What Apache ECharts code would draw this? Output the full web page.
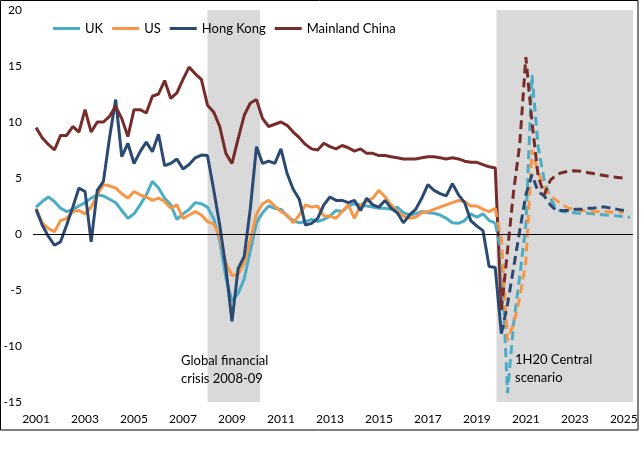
<!DOCTYPE html>
<html><head><meta charset="utf-8">
<script src="https://cdn.jsdelivr.net/npm/echarts@6/dist/echarts.min.js"></script>
<style>html,body{margin:0;padding:0;background:#fff}#c{width:643px;height:460px}</style>
</head><body><div id="c"></div>
<script>
// Quarterly categories 2001Q1 .. 2025Q2
const quarters = [];
for (let y = 2001; quarters.length < 98; y++) for (let q = 1; q <= 4 && quarters.length < 98; q++) quarters.push(y + 'Q' + q);

const xTickLabels = ['2001','2003','2005','2007','2009','2011','2013','2015','2017','2019','2021','2023','2025'];
const yTicks = [-15, -10, -5, 0, 5, 10, 15, 20];

// Actual outturns (from 2001Q1)
const ukActual = [2.4,2.9,3.3,2.9,2.3,2.0,2.2,2.5,2.8,3.2,
  3.5,3.4,3.1,2.8,2.1,1.4,1.8,2.6,3.5,4.7,
  4.1,3.2,2.6,1.3,1.8,2.2,2.8,2.7,2.4,1.4,
  -0.6,-3.9,-6.0,-5.3,-4.0,-1.5,1.0,1.9,2.5,2.3,
  2.2,1.6,1.2,1.0,1.1,1.3,1.1,1.3,1.6,2.1,
  2.0,2.5,2.7,2.6,2.5,2.4,2.3,2.3,2.2,2.4,
  1.9,1.7,1.8,2.0,1.9,1.85,1.7,1.4,1.0,0.95,
  1.2,1.8,1.5,1.8,1.2,1.0];
const usActual = [2.3,1.0,0.5,0.2,1.2,1.4,2.0,2.1,1.8,2.4,
  3.5,4.4,4.3,4.1,3.6,3.2,3.8,3.5,3.3,3.0,
  3.2,2.9,2.3,2.6,1.4,1.7,2.0,1.7,1.1,0.9,
  -0.2,-2.6,-3.7,-3.6,-2.6,-0.5,1.8,2.7,3.0,2.5,
  2.0,1.7,1.0,1.7,2.6,2.4,2.5,1.6,1.6,1.4,
  2.0,2.6,1.4,2.6,2.9,3.2,3.9,3.3,2.6,2.0,
  1.6,1.4,1.5,1.9,2.0,2.2,2.4,2.6,2.8,3.0,
  2.9,2.5,2.5,2.2,2.0,2.3];
const hkActual = [2.2,0.8,-0.2,-1.0,-0.7,0.8,2.4,4.1,3.8,-0.7,
  3.9,4.7,8.6,12.0,6.9,8.1,6.3,7.35,8.2,7.35,
  8.9,6.1,6.3,6.7,5.8,6.2,6.8,7.05,7.0,4.0,
  0.8,-3.0,-7.8,-3.1,-2.0,2.3,7.8,6.3,6.5,6.3,
  7.6,5.4,4.0,3.1,0.8,0.95,1.4,2.6,3.3,3.0,
  3.0,2.8,3.0,2.1,3.2,2.6,2.4,3.0,2.3,1.9,
  1.0,1.7,2.2,3.2,4.4,3.9,3.6,3.4,4.5,3.5,
  2.8,1.2,0.7,0.3,-2.9,-3.0,-8.9];
const mcActual = [9.5,8.6,8.0,7.5,8.8,8.8,9.6,9.1,11.1,9.1,
  10.0,10.0,10.5,11.4,10.3,8.7,11.1,11.1,10.8,12.3,
  12.5,13.7,12.1,12.6,13.8,14.9,14.3,13.8,11.5,10.9,
  9.6,7.2,6.3,8.5,10.6,11.7,12.0,10.3,9.6,9.8,
  10.0,9.7,9.1,8.6,8.0,7.6,7.5,8.1,7.8,7.6,
  7.9,7.7,7.4,7.6,7.2,7.2,7.0,7.0,6.9,6.8,
  6.7,6.7,6.7,6.8,6.9,6.9,6.8,6.7,6.8,6.7,
  6.5,6.4,6.4,6.2,6.0,5.9,-6.8];

// 1H20 central scenario projections
const ukScenarioStart = '2019Q4';
const ukScenario = [1.0,-1.7,-14.2,-8.0,-3.8,0.8,14.2,7.8,4.8,3.2,2.2,2.0,1.95,1.9,1.85,1.85,1.8,1.75,1.7,1.65,1.6,1.55,1.5];
const usScenarioStart = '2019Q4';
const usScenario = [2.3,-0.5,-9.5,-8.0,-5.7,-2.5,7.5,5.5,4.2,3.4,3.0,2.6,2.3,2.2,2.1,2.05,2.0,2.0,2.0,1.95,1.95,1.95];
const hkScenarioStart = '2020Q1';
const hkScenario = [-8.9,-6.3,-3.0,0.3,3.5,5.3,3.8,3.4,2.6,2.1,2.1,2.1,2.2,2.2,2.3,2.3,2.4,2.4,2.3,2.2,2.1];
const mcScenarioStart = '2020Q1';
const mcScenario = [-6.8,-1.5,3.8,8.0,15.8,10.0,5.2,3.5,4.8,5.3,5.5,5.6,5.65,5.6,5.5,5.4,5.3,5.2,5.1,5.05,5.0];

// Shaded periods (in years)
const shadedPeriods = [[2008.0, 2010.15], [2019.8, 2025.375]];

function qx(label) { const y = parseInt(label.slice(0, 4), 10); const q = parseInt(label.slice(5), 10); return y + (q - 1) / 4; }
function pairs(values, startLabel) {
  const s = quarters.indexOf(startLabel);
  return values.map((v, k) => [qx(quarters[s + k]), v]);
}

const FONT = 'Lato, "Liberation Sans", sans-serif';
const C = { uk: '#4bacc6', us: '#f79646', hk: '#2a4a73', mc: '#772c2a' };
const dash = [9, 5];

const chart = echarts.init(document.getElementById('c'), null, { renderer: 'canvas' });
chart.setOption({
  animation: false,
  backgroundColor: '#fff',
  grid: { left: 33, right: 10, top: 10, bottom: 58, containLabel: false },
  legend: {
    data: ['UK', 'US', 'Hong Kong', 'Mainland China'],
    left: 48, top: 17, icon: 'rect', itemWidth: 27, itemHeight: 3, itemGap: 9,
    textStyle: { fontSize: 13, fontFamily: FONT, color: '#000' }
  },
  xAxis: {
    type: 'value', min: qx('2001Q1') - 0.125, max: qx('2025Q2') + 0.125,
    axisLine: { show: false }, axisTick: { show: false }, splitLine: { show: false },
    axisLabel: {
      customValues: xTickLabels.map(Number),
      formatter: v => String(Math.round(v)),
      margin: 11, color: '#000', fontSize: 12, fontFamily: FONT
    }
  },
  yAxis: {
    type: 'value', min: yTicks[0], max: yTicks[yTicks.length - 1], interval: 5,
    axisLine: { show: false }, axisTick: { show: false }, splitLine: { show: false },
    axisLabel: { margin: 11, color: '#000', fontSize: 12, fontFamily: FONT }
  },
  series: [
    { name: 'shade', type: 'line', data: [], z: 1, silent: true,
      markArea: { silent: true, itemStyle: { color: '#d9d9d9' },
        data: shadedPeriods.map(p => [{ xAxis: p[0], yAxis: yTicks[0] }, { xAxis: p[1], yAxis: yTicks[yTicks.length - 1] }]) } },
    { name: 'zero', type: 'line', data: [], z: 2, silent: true,
      markLine: { silent: true, symbol: 'none', label: { show: false },
        lineStyle: { color: '#000', width: 1, type: 'solid' }, data: [{ yAxis: 0 }] } },
    { name: 'UK', type: 'line', data: pairs(ukActual, '2001Q1'), showSymbol: false, symbol: 'none', z: 3, color: C.uk, lineStyle: { width: 3, color: C.uk } },
    { name: 'US', type: 'line', data: pairs(usActual, '2001Q1'), showSymbol: false, symbol: 'none', z: 3, color: C.us, lineStyle: { width: 3, color: C.us } },
    { name: 'Hong Kong', type: 'line', data: pairs(hkActual, '2001Q1'), showSymbol: false, symbol: 'none', z: 3, color: C.hk, lineStyle: { width: 3, color: C.hk } },
    { name: 'Mainland China', type: 'line', data: pairs(mcActual, '2001Q1'), showSymbol: false, symbol: 'none', z: 3, color: C.mc, lineStyle: { width: 3, color: C.mc } },
    { name: 'UK scenario', type: 'line', data: pairs(ukScenario, ukScenarioStart), showSymbol: false, symbol: 'none', z: 3, color: C.uk, lineStyle: { width: 3, color: C.uk, type: dash } },
    { name: 'US scenario', type: 'line', data: pairs(usScenario, usScenarioStart), showSymbol: false, symbol: 'none', z: 3, color: C.us, lineStyle: { width: 3, color: C.us, type: dash } },
    { name: 'Hong Kong scenario', type: 'line', data: pairs(hkScenario, hkScenarioStart), showSymbol: false, symbol: 'none', z: 3, color: C.hk, lineStyle: { width: 3, color: C.hk, type: dash } },
    { name: 'Mainland China scenario', type: 'line', data: pairs(mcScenario, mcScenarioStart), showSymbol: false, symbol: 'none', z: 3, color: C.mc, lineStyle: { width: 3, color: C.mc, type: dash } }
  ],
  graphic: [
    { type: 'rect', silent: true, z: 100, shape: { x: 0.5, y: 0.5, width: 637.5, height: 429.5 },
      style: { fill: 'none', stroke: '#000', lineWidth: 1 } },
    { type: 'text', silent: true, z: 100, x: 181, y: 352,
      style: { text: 'Global financial\ncrisis 2008-09', fontSize: 13, fontFamily: FONT, fill: '#000', lineHeight: 18 } },
    { type: 'text', silent: true, z: 100, x: 515, y: 351,
      style: { text: '1H20 Central\nscenario', fontSize: 13, fontFamily: FONT, fill: '#000', lineHeight: 18 } }
  ]
});
</script>
</body></html>
